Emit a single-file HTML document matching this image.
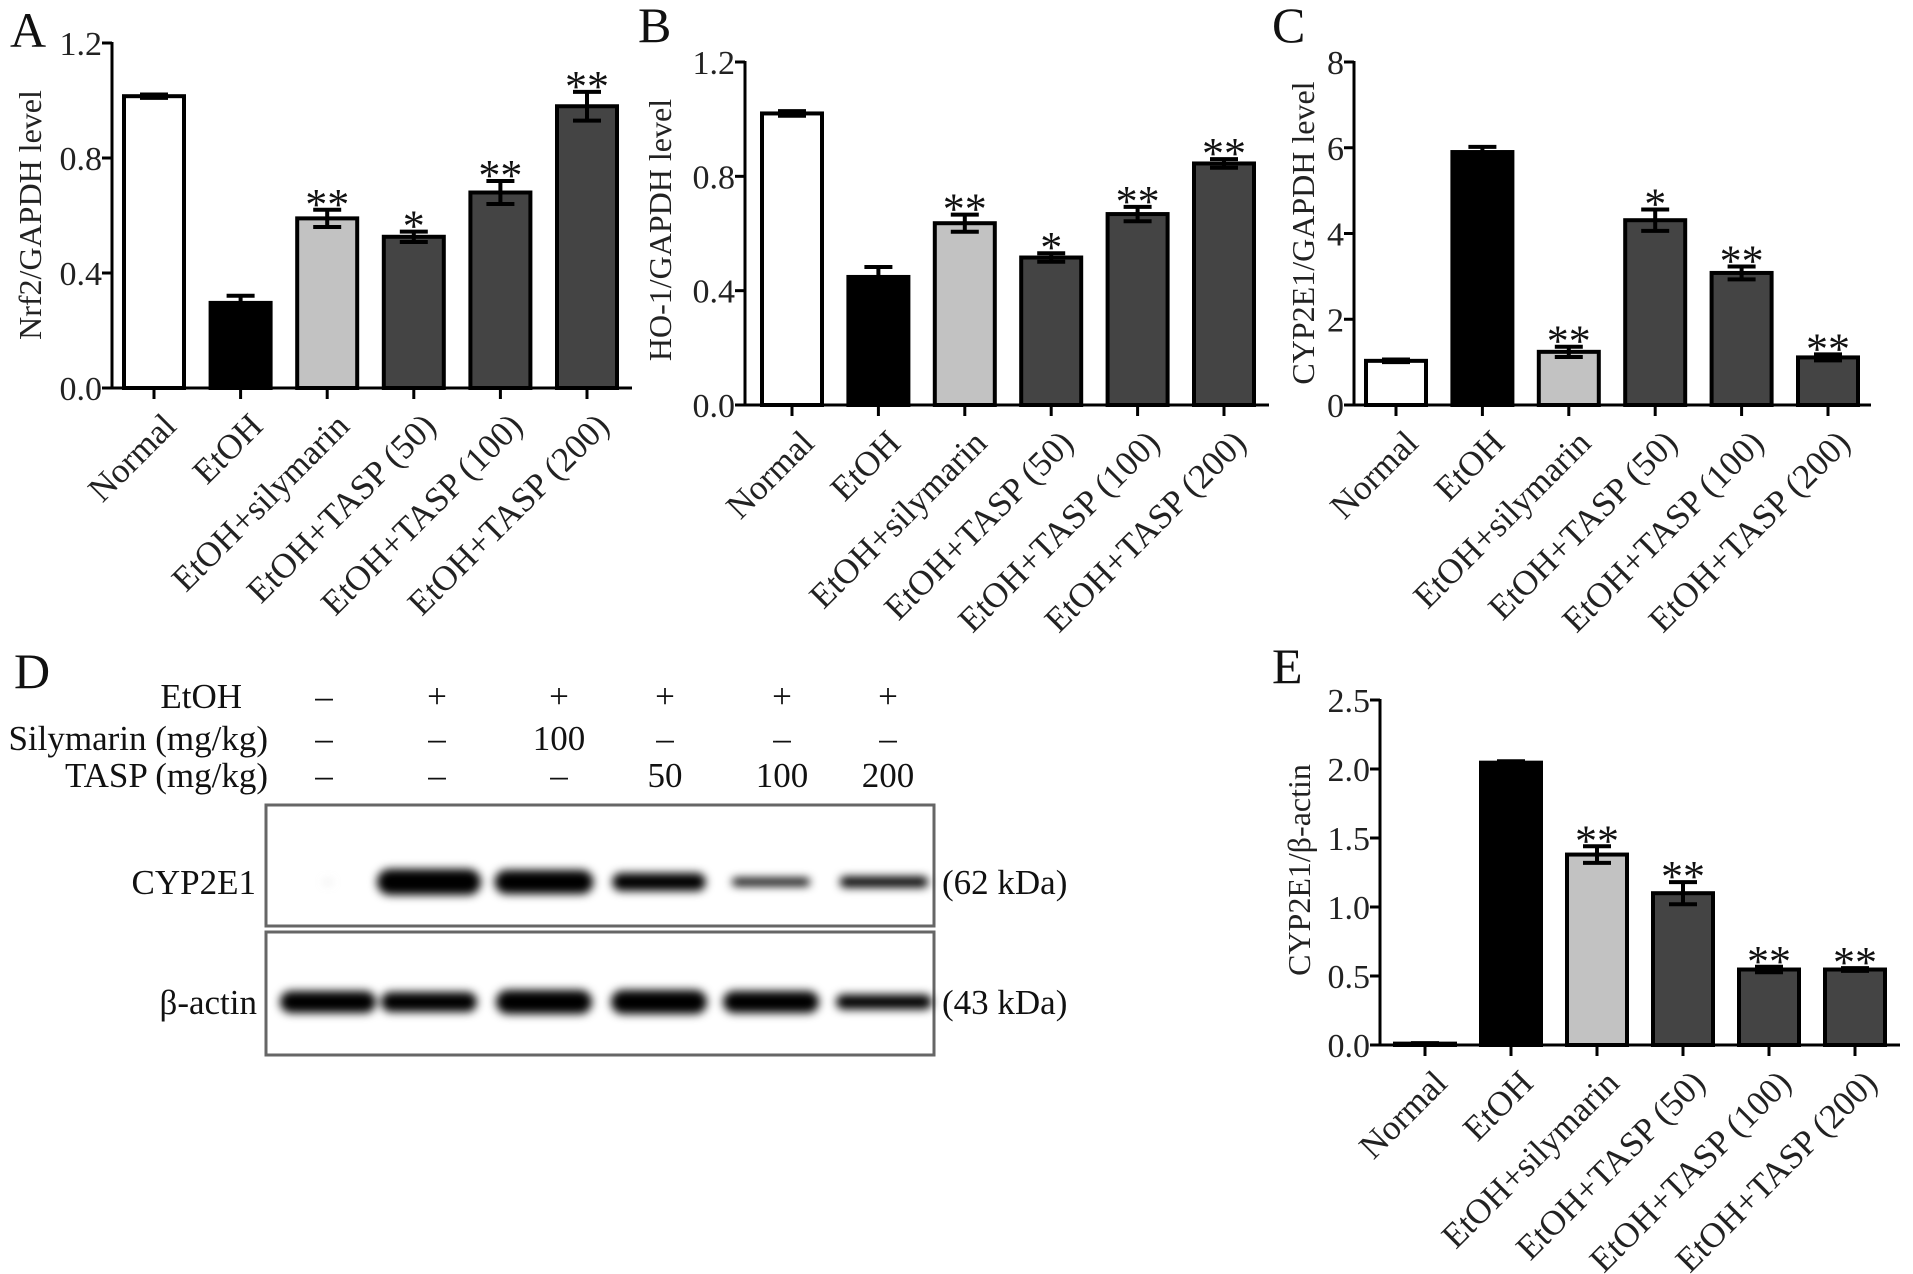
<!DOCTYPE html>
<html><head><meta charset="utf-8"><style>
html,body{margin:0;padding:0;background:#fff}
svg{display:block;font-family:"Liberation Serif","Times New Roman",serif}
text{font-family:"Liberation Serif","Times New Roman",serif}
</style></head><body>
<svg id="fig" width="1913" height="1274" viewBox="0 0 1913 1274">
<defs>
<filter id="blur" x="-20%" y="-80%" width="140%" height="260%"><feGaussianBlur stdDeviation="4.5"/></filter>
</defs>
</svg>
<script>
const categories = ["Normal","EtOH","EtOH+silymarin","EtOH+TASP (50)","EtOH+TASP (100)","EtOH+TASP (200)"];
const fills = ["#ffffff","#000000","#c2c2c2","#444444","#444444","#444444"];
const nrf2Values = [1.015,0.296,0.59,0.526,0.68,0.98];
const nrf2Errors = [0.006,0.025,0.03,0.018,0.04,0.05];
const nrf2Stars = ["","","**","*","**","**"];
const ho1Values = [1.02,0.448,0.636,0.516,0.668,0.845];
const ho1Errors = [0.008,0.035,0.03,0.015,0.025,0.015];
const ho1Stars = ["","","**","*","**","**"];
const cypValues = [1.03,5.9,1.24,4.31,3.08,1.11];
const cypErrors = [0.03,0.12,0.12,0.25,0.15,0.07];
const cypStars = ["","","**","*","**","**"];
const actinValues = [0.01,2.046,1.38,1.10,0.547,0.547];
const actinErrors = [0.004,0.01,0.06,0.08,0.02,0.01];
const actinStars = ["","","**","**","**","**"];
const ticksA = [0,0.4,0.8,1.2];
const ticksB = [0,0.4,0.8,1.2];
const ticksC = [0,2,4,6,8];
const ticksE = [0,0.5,1.0,1.5,2.0,2.5];

const NS="http://www.w3.org/2000/svg";
const svg=document.getElementById('fig');
function mk(tag,attrs,parent,text){const e=document.createElementNS(NS,tag);for(const k in attrs)e.setAttribute(k,attrs[k]);if(text!==undefined)e.textContent=text;(parent||svg).appendChild(e);return e;}

function panel(id,cfg,values,errors,stars,ticks,dec){
  const g=mk('g',{});
  
  
  const yS=v=>cfg.y0-(v/cfg.max)*(cfg.y0-cfg.yTop);
  const xS=i=>cfg.c0+i*cfg.step;
  const bw=60;
  values.forEach((v,i)=>{
    const r=mk('rect',{x:xS(i)-bw/2,y:yS(v),width:bw,height:cfg.y0-yS(v),fill:fills[i],stroke:'#000','stroke-width':4},g);
    
    
    const e=errors[i],x=xS(i),t=yS(v+e),b=yS(Math.max(0,v-e));
    const eb=mk('path',{d:`M${x},${t}V${b}M${x-14},${t}H${x+14}M${x-14},${b}H${x+14}`,stroke:'#000','stroke-width':4,fill:'none'},g);
    
    
    if(stars[i]){
      const s=mk('text',{x:x,y:t+9,'font-size':44,'text-anchor':'middle',fill:'#111'},g,stars[i]);
      
      
    }
  });
  const ya=mk('path',{d:`M${cfg.ax},${cfg.yTop-1}V${cfg.y0}`,stroke:'#000','stroke-width':3,fill:'none'},g);
  
  
  const xa=mk('path',{d:`M${cfg.ax-10},${cfg.y0}H${cfg.end}`,stroke:'#000','stroke-width':3,fill:'none'},g);
  
  
  ticks.forEach(t=>{
    const y=yS(t);
    mk('path',{d:`M${cfg.ax-10},${y}H${cfg.ax}`,stroke:'#000','stroke-width':3},g);
    const tl=mk('text',{x:cfg.ax-10,y:y+12,'font-size':34,'text-anchor':'end',fill:'#222'},g,t.toFixed(dec));
    
    
  });
  categories.forEach((c,i)=>{
    const x=xS(i);
    mk('path',{d:`M${x},${cfg.y0}V${cfg.y0+11}`,stroke:'#000','stroke-width':3},g);
    const lx=x+24,ly=cfg.y0+40;
    const l=mk('text',{x:lx,y:ly,'font-size':35,'text-anchor':'end',fill:'#222',transform:`rotate(-45 ${lx} ${ly})`},g,c);
    
    
  });
  const tt=mk('text',{x:cfg.tx,y:cfg.ty,'font-size':32,'text-anchor':'middle',fill:'#222',transform:`rotate(-90 ${cfg.tx} ${cfg.ty})`},g,cfg.title);
  
  
  const pl=mk('text',{x:cfg.lx,y:cfg.ly,'font-size':50,fill:'#111'},g,cfg.letter);
  
  
}
panel('a',{ax:112,y0:388,yTop:43,max:1.2,c0:154,step:86.6,end:632,tx:41,ty:215,title:'Nrf2/GAPDH level',letter:'A',lx:10,ly:47},nrf2Values,nrf2Errors,nrf2Stars,ticksA,1);
panel('b',{ax:745,y0:405,yTop:62,max:1.2,c0:792,step:86.4,end:1269,tx:671,ty:230,title:'HO-1/GAPDH level',letter:'B',lx:638,ly:42},ho1Values,ho1Errors,ho1Stars,ticksB,1);
panel('c',{ax:1354,y0:405,yTop:62,max:8,c0:1396,step:86.4,end:1871,tx:1314,ty:233,title:'CYP2E1/GAPDH level',letter:'C',lx:1272,ly:42},cypValues,cypErrors,cypStars,ticksC,0);
panel('e',{ax:1380,y0:1045,yTop:700,max:2.5,c0:1425,step:86,end:1900,tx:1310,ty:870,title:'CYP2E1/β-actin',letter:'E',lx:1272,ly:683},actinValues,actinErrors,actinStars,ticksE,1);

const laneX=[324,437,559,665,782,888];
const etohRow=["–","+","+","+","+","+"];
const silyRow=["–","–","100","–","–","–"];
const taspRow=["–","–","–","50","100","200"];
const cypBandWidth=[0.08,1,0.95,0.9,0.75,0.85];
const cypBandThick=[2,26,24,18,8,11];
const actinBandThick=[22,20,24,24,22,15];
const gd=mk('g',{});


const dl=mk('text',{x:14,y:688,'font-size':50,fill:'#111'},gd,'D');


[['EtOH',708,etohRow,242],['Silymarin (mg/kg)',750,silyRow,268],['TASP (mg/kg)',787,taspRow,268]].forEach(([lab,y,row,rx])=>{
  const t=mk('text',{x:rx,y:y,'font-size':35,'text-anchor':'end',fill:'#111'},gd,lab);
  
  
  row.forEach((v,i)=>{
    const c=mk('text',{x:laneX[i],y:y,'font-size':35,'text-anchor':'middle',fill:'#111'},gd,v);
    
    
  });
});
const box1=mk('rect',{x:266,y:805,width:668,height:121,fill:'#fff',stroke:'#666','stroke-width':3},gd);


const box2=mk('rect',{x:266,y:932,width:668,height:123,fill:'#fff',stroke:'#666','stroke-width':3},gd);


const bandG=mk('g',{filter:'url(#blur)'},gd);
const bandCx=[328,429,544,659,771,884];
bandCx.forEach((cx,i)=>{
  const w=104*cypBandWidth[i],h=cypBandThick[i];
  const b=mk('rect',{x:cx-w/2,y:882-h/2,width:w,height:h,rx:h/2,fill:i===0?'#ccc':'#000'},bandG);
  
  
  const ha=actinBandThick[i];
  const a=mk('rect',{x:cx-48,y:1002-ha/2,width:96,height:ha,rx:ha/2,fill:'#000'},bandG);
  
  
});
[['CYP2E1',256,894],['β-actin',257,1014]].forEach(([t,x,y])=>{
  const e=mk('text',{x:x,y:y,'font-size':35,'text-anchor':'end',fill:'#111'},gd,t);
  
  
});
[['(62 kDa)',894],['(43 kDa)',1014]].forEach(([t,y])=>{
  const e=mk('text',{x:942,y:y,'font-size':35,fill:'#111'},gd,t);
  
  
});
</script>
</body></html>
